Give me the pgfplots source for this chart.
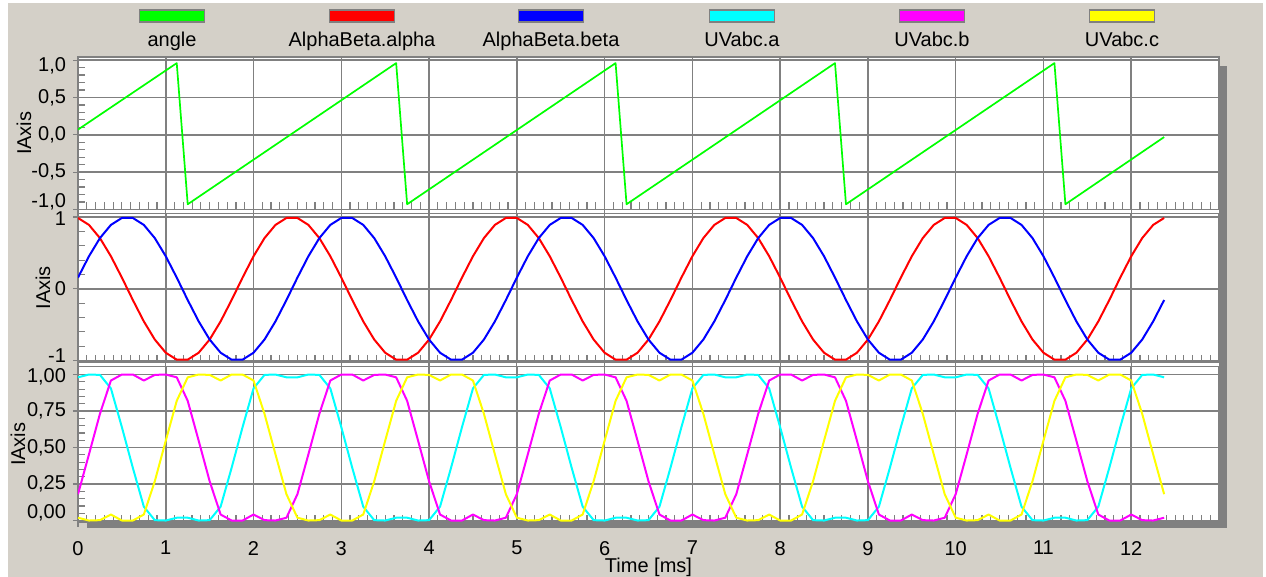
\documentclass[border=0pt]{standalone}
\usepackage{fontspec}
\setmainfont{Liberation Sans}
\usepackage{pgfplots}
\pgfplotsset{compat=1.18}
\usepackage{pgfplotstable}

\definecolor{winbg}{RGB}{212,208,200}
\definecolor{gridc}{RGB}{128,128,128}
\definecolor{shc}{RGB}{128,128,128}
\definecolor{cgreen}{RGB}{0,255,0}
\definecolor{cred}{RGB}{255,0,0}
\definecolor{cblue}{RGB}{0,0,255}
\definecolor{ccyan}{RGB}{0,255,255}
\definecolor{cmag}{RGB}{255,0,255}
\definecolor{cyel}{RGB}{255,255,0}

\pgfplotstableread{
x al be ua ub uc
0.000 0.9877 0.1564 0.9808 0.1803 0.0192
0.125 0.8910 0.4540 1.0000 0.4533 0.0000
0.250 0.7071 0.7071 0.9975 0.7309 0.0025
0.375 0.4540 0.8910 0.9050 0.9589 0.0411
0.500 0.1564 0.9877 0.6395 1.0000 0.0000
0.625 -0.1564 0.9877 0.3605 1.0000 0.0000
0.750 -0.4540 0.8910 0.0950 0.9589 0.0411
0.875 -0.7071 0.7071 0.0025 0.9975 0.2691
1.000 -0.8910 0.4540 0.0000 1.0000 0.5467
1.125 -0.9877 0.1564 0.0192 0.9808 0.8197
1.250 -0.9877 -0.1564 0.0192 0.8197 0.9808
1.375 -0.8910 -0.4540 0.0000 0.5467 1.0000
1.500 -0.7071 -0.7071 0.0025 0.2691 0.9975
1.625 -0.4540 -0.8910 0.0950 0.0411 0.9589
1.750 -0.1564 -0.9877 0.3605 0.0000 1.0000
1.875 0.1564 -0.9877 0.6395 0.0000 1.0000
2.000 0.4540 -0.8910 0.9050 0.0411 0.9589
2.125 0.7071 -0.7071 0.9975 0.0025 0.7309
2.250 0.8910 -0.4540 1.0000 0.0000 0.4533
2.375 0.9877 -0.1564 0.9808 0.0192 0.1803
2.500 0.9877 0.1564 0.9808 0.1803 0.0192
2.625 0.8910 0.4540 1.0000 0.4533 0.0000
2.750 0.7071 0.7071 0.9975 0.7309 0.0025
2.875 0.4540 0.8910 0.9050 0.9589 0.0411
3.000 0.1564 0.9877 0.6395 1.0000 0.0000
3.125 -0.1564 0.9877 0.3605 1.0000 0.0000
3.250 -0.4540 0.8910 0.0950 0.9589 0.0411
3.375 -0.7071 0.7071 0.0025 0.9975 0.2691
3.500 -0.8910 0.4540 0.0000 1.0000 0.5467
3.625 -0.9877 0.1564 0.0192 0.9808 0.8197
3.750 -0.9877 -0.1564 0.0192 0.8197 0.9808
3.875 -0.8910 -0.4540 0.0000 0.5467 1.0000
4.000 -0.7071 -0.7071 0.0025 0.2691 0.9975
4.125 -0.4540 -0.8910 0.0950 0.0411 0.9589
4.250 -0.1564 -0.9877 0.3605 0.0000 1.0000
4.375 0.1564 -0.9877 0.6395 0.0000 1.0000
4.500 0.4540 -0.8910 0.9050 0.0411 0.9589
4.625 0.7071 -0.7071 0.9975 0.0025 0.7309
4.750 0.8910 -0.4540 1.0000 0.0000 0.4533
4.875 0.9877 -0.1564 0.9808 0.0192 0.1803
5.000 0.9877 0.1564 0.9808 0.1803 0.0192
5.125 0.8910 0.4540 1.0000 0.4533 0.0000
5.250 0.7071 0.7071 0.9975 0.7309 0.0025
5.375 0.4540 0.8910 0.9050 0.9589 0.0411
5.500 0.1564 0.9877 0.6395 1.0000 0.0000
5.625 -0.1564 0.9877 0.3605 1.0000 0.0000
5.750 -0.4540 0.8910 0.0950 0.9589 0.0411
5.875 -0.7071 0.7071 0.0025 0.9975 0.2691
6.000 -0.8910 0.4540 0.0000 1.0000 0.5467
6.125 -0.9877 0.1564 0.0192 0.9808 0.8197
6.250 -0.9877 -0.1564 0.0192 0.8197 0.9808
6.375 -0.8910 -0.4540 0.0000 0.5467 1.0000
6.500 -0.7071 -0.7071 0.0025 0.2691 0.9975
6.625 -0.4540 -0.8910 0.0950 0.0411 0.9589
6.750 -0.1564 -0.9877 0.3605 0.0000 1.0000
6.875 0.1564 -0.9877 0.6395 0.0000 1.0000
7.000 0.4540 -0.8910 0.9050 0.0411 0.9589
7.125 0.7071 -0.7071 0.9975 0.0025 0.7309
7.250 0.8910 -0.4540 1.0000 0.0000 0.4533
7.375 0.9877 -0.1564 0.9808 0.0192 0.1803
7.500 0.9877 0.1564 0.9808 0.1803 0.0192
7.625 0.8910 0.4540 1.0000 0.4533 0.0000
7.750 0.7071 0.7071 0.9975 0.7309 0.0025
7.875 0.4540 0.8910 0.9050 0.9589 0.0411
8.000 0.1564 0.9877 0.6395 1.0000 0.0000
8.125 -0.1564 0.9877 0.3605 1.0000 0.0000
8.250 -0.4540 0.8910 0.0950 0.9589 0.0411
8.375 -0.7071 0.7071 0.0025 0.9975 0.2691
8.500 -0.8910 0.4540 0.0000 1.0000 0.5467
8.625 -0.9877 0.1564 0.0192 0.9808 0.8197
8.750 -0.9877 -0.1564 0.0192 0.8197 0.9808
8.875 -0.8910 -0.4540 0.0000 0.5467 1.0000
9.000 -0.7071 -0.7071 0.0025 0.2691 0.9975
9.125 -0.4540 -0.8910 0.0950 0.0411 0.9589
9.250 -0.1564 -0.9877 0.3605 0.0000 1.0000
9.375 0.1564 -0.9877 0.6395 0.0000 1.0000
9.500 0.4540 -0.8910 0.9050 0.0411 0.9589
9.625 0.7071 -0.7071 0.9975 0.0025 0.7309
9.750 0.8910 -0.4540 1.0000 0.0000 0.4533
9.875 0.9877 -0.1564 0.9808 0.0192 0.1803
10.000 0.9877 0.1564 0.9808 0.1803 0.0192
10.125 0.8910 0.4540 1.0000 0.4533 0.0000
10.250 0.7071 0.7071 0.9975 0.7309 0.0025
10.375 0.4540 0.8910 0.9050 0.9589 0.0411
10.500 0.1564 0.9877 0.6395 1.0000 0.0000
10.625 -0.1564 0.9877 0.3605 1.0000 0.0000
10.750 -0.4540 0.8910 0.0950 0.9589 0.0411
10.875 -0.7071 0.7071 0.0025 0.9975 0.2691
11.000 -0.8910 0.4540 0.0000 1.0000 0.5467
11.125 -0.9877 0.1564 0.0192 0.9808 0.8197
11.250 -0.9877 -0.1564 0.0192 0.8197 0.9808
11.375 -0.8910 -0.4540 0.0000 0.5467 1.0000
11.500 -0.7071 -0.7071 0.0025 0.2691 0.9975
11.625 -0.4540 -0.8910 0.0950 0.0411 0.9589
11.750 -0.1564 -0.9877 0.3605 0.0000 1.0000
11.875 0.1564 -0.9877 0.6395 0.0000 1.0000
12.000 0.4540 -0.8910 0.9050 0.0411 0.9589
12.125 0.7071 -0.7071 0.9975 0.0025 0.7309
12.250 0.8910 -0.4540 1.0000 0.0000 0.4533
12.375 0.9877 -0.1564 0.9808 0.0192 0.1803
}\sig

\pgfplotstableread{
x ang
0.000 0.07
1.125 0.96
1.250 -0.93
3.625 0.96
3.750 -0.93
6.125 0.96
6.250 -0.93
8.625 0.96
8.750 -0.93
11.125 0.96
11.250 -0.93
12.375 -0.03
}\angtab

\pgfplotsset{
  panel/.style={
    scale only axis, width=570.5pt,
    xmin=0, xmax=13,
    anchor=south west,
    axis background/.style={fill=white},
    xtick={0,1,...,12},
    minor xtick={0.1,0.2,...,12.9},
    minor y tick num=4,
    grid=major,
    major grid style={draw=gridc, line width=0.75pt},
    axis line style={draw=gridc, line width=0.75pt},
    tick style={draw=gridc, line width=0.6pt},
    tick align=center,
    major tick length=5pt,
    minor tick length=3.6pt,
    every minor x tick/.append style={yshift=1.8pt},
    every minor y tick/.append style={xshift=1.8pt},
    tick pos=left,
    tick label style={font=\fontsize{10}{12}\selectfont, text=black},
    label style={font=\fontsize{10}{12}\selectfont, text=black},
    ylabel={IAxis},
    every axis plot/.append style={line width=1pt, line join=round, mark=none},
  },
}

\begin{document}
\begin{tikzpicture}
\fill[white] (0,0) rectangle (633pt,288.5pt);
\fill[winbg] (4pt,0) rectangle (631.5pt,287pt);
\fill[shc] (609.5pt,24.5pt) rectangle (613.5pt,255.5pt);
\fill[shc] (43.5pt,24.5pt) rectangle (613.5pt,27.5pt);
\fill[white] (39pt,27.5pt) rectangle (609.5pt,260pt);

\foreach \cx/\cc/\tt in {86/cgreen/angle, 181/cred/AlphaBeta.alpha, 275.5/cblue/AlphaBeta.beta, 371/ccyan/UVabc.a, 466/cmag/UVabc.b, 561/cyel/UVabc.c}{
  \draw[gridc, line width=0.6pt, fill=\cc] ({(\cx-16.25)*1pt},277.5pt) rectangle ({(\cx+16.25)*1pt},283.5pt);
  \node[anchor=base, inner sep=0pt, font=\fontsize{10}{12}\selectfont] at ({\cx*1pt},265.25pt) {\tt};
}

% top panel
\begin{axis}[panel, at={(39pt,183.75pt)}, height=76.25pt,
  ymin=-1.0, ymax=1.042,
  ytick={-1,-0.5,0,0.5,1},
  yticklabels={{\raisebox{4pt}[\height][\depth]{-1,0}},{-0,5},{0,0},{0,5},{\raisebox{-2.75pt}[\height][\depth]{1,0}}},
  xticklabels={},
  ylabel style={at={(axis description cs:-0.0473,0.5)}, anchor=center}]
\addplot[cgreen, line width=0.85pt] table[x=x, y=ang] {\angtab};
\end{axis}

% middle panel
\begin{axis}[panel, at={(39pt,107.5pt)}, height=74.25pt,
  ymin=-1.02, ymax=1.05,
  ytick={-1,0,1},
  yticklabels={{\raisebox{2.5pt}[\height][\depth]{-1}},{0},{\raisebox{-1pt}[\height][\depth]{1}}},
  xticklabels={},
  ylabel style={at={(axis description cs:-0.0307,0.5)}, anchor=center}]
\addplot[cred] table[x=x, y=al] {\sig};
\addplot[cblue] table[x=x, y=be] {\sig};
\end{axis}

% bottom panel
\begin{axis}[panel, at={(39pt,27.5pt)}, height=77.75pt,
  ymin=-0.01, ymax=1.055,
  ytick={0,0.25,0.5,0.75,1},
  yticklabels={{\raisebox{4pt}[\height][\depth]{0,00}},{0,25},{0,50},{0,75},{\raisebox{-1.25pt}[\height][\depth]{1,00}}},
  xticklabels={0,1,2,3,4,5,6,7,8,9,10,11,12},
  xticklabel style={anchor=north, yshift=-3.5pt},
  xlabel={Time [ms]},
  xlabel style={at={(axis description cs:0.5,-0.29)}, anchor=center},
  ylabel style={at={(axis description cs:-0.0526,0.5)}, anchor=center}]
\addplot[ccyan] table[x=x, y=ua] {\sig};
\addplot[cmag] table[x=x, y=ub] {\sig};
\addplot[cyel] table[x=x, y=uc] {\sig};
\end{axis}
\pgfresetboundingbox
\path[use as bounding box] (0,0) rectangle (633pt,288.5pt);
\end{tikzpicture}
\end{document}
